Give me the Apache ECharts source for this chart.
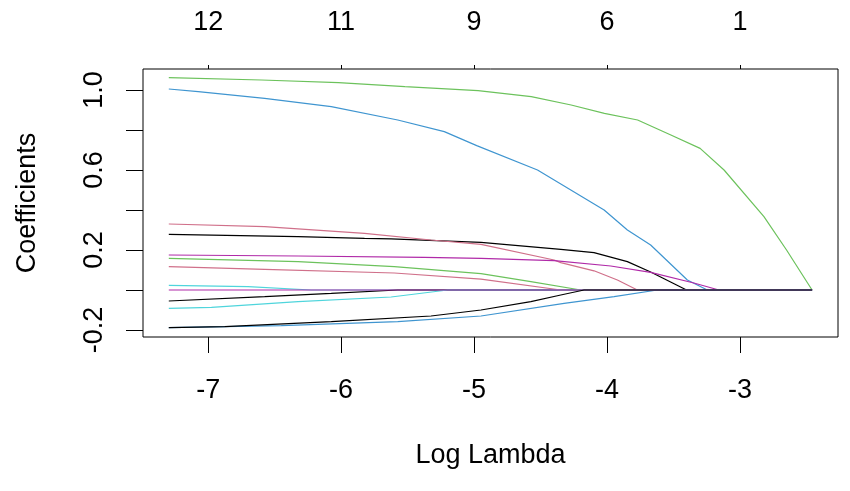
<!DOCTYPE html>
<html lang="en">
  <head>
    <meta charset="UTF-8" />
    <title>Lasso coefficient paths</title>
    <script src="https://cdn.jsdelivr.net/npm/echarts@6/dist/echarts.min.js"></script>
    <style>
      body { margin: 0; background: #fff; }
    </style>
  </head>
  <body>
    <div id="main" style="width: 850px; height: 491px"></div>

    <script type="text/javascript">
      // coefficient paths, [log lambda, coefficient]
      const blackTop = [[-7.296,0.278],[-6.324,0.267],[-5.824,0.258],[-5.624,0.256],[-4.948,0.238],[-4.348,0.203],[-4.098,0.187],[-3.847,0.142],[-3.672,0.09],[-3.402,0],[-2.458,0]];
      const pinkTop = [[-7.296,0.33],[-6.575,0.317],[-5.824,0.283],[-5.324,0.25],[-4.948,0.228],[-4.398,0.15],[-4.348,0.137],[-4.098,0.096],[-3.922,0.05],[-3.772,0],[-2.458,0]];
      const greenTop = [[-7.296,1.062],[-6.6,1.05],[-6.02,1.037],[-5.52,1.017],[-4.97,0.997],[-4.57,0.967],[-4.27,0.925],[-4.02,0.883],[-3.77,0.85],[-3.52,0.775],[-3.3,0.708],[-3.12,0.6],[-2.82,0.367],[-2.65,0.2],[-2.458,0]];
      const blueTop = [[-7.296,1.005],[-7.075,0.992],[-6.575,0.958],[-6.074,0.917],[-5.574,0.85],[-5.224,0.792],[-4.98,0.722],[-4.523,0.6],[-4.022,0.4],[-3.847,0.3],[-3.672,0.225],[-3.396,0.05],[-3.246,0],[-2.458,0]];
      const cyanTop = [[-7.296,0.023],[-6.7,0.017],[-6.224,0],[-2.458,0]];
      const magentaTop = [[-7.296,0.175],[-6.324,0.17],[-5.374,0.163],[-4.948,0.158],[-4.398,0.147],[-3.972,0.12],[-3.672,0.088],[-3.347,0.035],[-3.159,0],[-2.458,0]];
      const blackMid = [[-7.296,-0.055],[-6.575,-0.033],[-6.074,-0.017],[-5.574,0],[-2.458,0]];
      const pinkLow = [[-7.296,0.117],[-6.575,0.103],[-5.6,0.085],[-4.948,0.054],[-4.348,0],[-2.458,0]];
      const greenLow = [[-7.296,0.158],[-6.324,0.142],[-5.6,0.117],[-4.948,0.082],[-4.573,0.042],[-4.198,0],[-2.458,0]];
      const blueLow = [[-7.296,-0.188],[-6.45,-0.178],[-5.574,-0.158],[-4.948,-0.13],[-4.323,-0.067],[-3.947,-0.033],[-3.622,0],[-2.458,0]];
      const cyanLow = [[-7.296,-0.092],[-6.975,-0.087],[-6.324,-0.058],[-5.624,-0.035],[-5.198,0],[-2.458,0]];
      const magentaLow = [[-7.296,0],[-2.458,0]];
      const blackLow = [[-7.296,-0.188],[-6.875,-0.183],[-6.074,-0.158],[-5.324,-0.13],[-4.948,-0.1],[-4.573,-0.058],[-4.348,-0.025],[-4.173,0],[-2.458,0]];

      const xTicks = [-7, -6, -5, -4, -3];
      const dfLabels = ["12", "11", "9", "6", "1"];
      const yTicks = [-0.2, 0, 0.2, 0.4, 0.6, 0.8, 1.0];
      const yLabels = [-0.2, 0.2, 0.6, 1.0];

      const font = "'Liberation Sans', Arial, sans-serif";
      const paths = [
        [blackTop, "#000000"],
        [pinkTop, "#d0708a"],
        [greenTop, "#6cc25c"],
        [blueTop, "#3f95d0"],
        [cyanTop, "#4fd5dc"],
        [magentaTop, "#b02aa8"],
        [blackMid, "#000000"],
        [pinkLow, "#d0708a"],
        [greenLow, "#6cc25c"],
        [blueLow, "#3f95d0"],
        [cyanLow, "#4fd5dc"],
        [magentaLow, "#b02aa8"],
        [blackLow, "#000000"],
      ];

      let myChart = echarts.init(document.getElementById("main"));

      const options = {
        animation: false,
        backgroundColor: "#fff",
        grid: {
          left: 143, right: 12, top: 69, bottom: 154,
          show: true, borderColor: "#000", borderWidth: 1,
        },
        xAxis: [
          {
            type: "value",
            position: "bottom",
            min: -7.49,
            max: -2.263,
            axisLine: { show: false, onZero: false },
            splitLine: { show: false },
            axisTick: { customValues: xTicks, length: 16, lineStyle: { color: "#000" } },
            axisLabel: {
              customValues: xTicks, margin: 40, fontSize: 27, color: "#000", fontFamily: font,
            },
            name: "Log Lambda",
            nameLocation: "middle",
            nameGap: 105,
            nameTextStyle: { fontSize: 27, color: "#000", fontFamily: font },
          },
          {
            type: "value",
            position: "top",
            min: -7.49,
            max: -2.263,
            axisLine: { show: false, onZero: false },
            splitLine: { show: false },
            axisTick: { customValues: xTicks, length: 4, lineStyle: { color: "#000" } },
            axisLabel: {
              customValues: xTicks, margin: 33, fontSize: 27, color: "#000", fontFamily: font,
              formatter: (v) => dfLabels[xTicks.indexOf(Math.round(v))] || "",
            },
          },
        ],
        yAxis: {
          type: "value",
          min: -0.235,
          max: 1.105,
          axisLine: { show: false, onZero: false },
          splitLine: { show: false },
          axisTick: { customValues: yTicks, length: 17, lineStyle: { color: "#000" } },
          axisLabel: {
            customValues: yLabels, rotate: 90, margin: 35, fontSize: 27, color: "#000", fontFamily: font,
            formatter: (v) => v.toFixed(1),
          },
          name: "Coefficients",
          nameLocation: "middle",
          nameGap: 102,
          nameTextStyle: { fontSize: 27, color: "#000", fontFamily: font },
        },
        series: paths.map(([data, color]) => ({
          type: "line",
          data: data,
          xAxisIndex: 0,
          symbol: "none",
          silent: true,
          lineStyle: { color: color, width: 1.2 },
        })),
      };

      myChart.setOption(options);
    </script>
  </body>
</html>
